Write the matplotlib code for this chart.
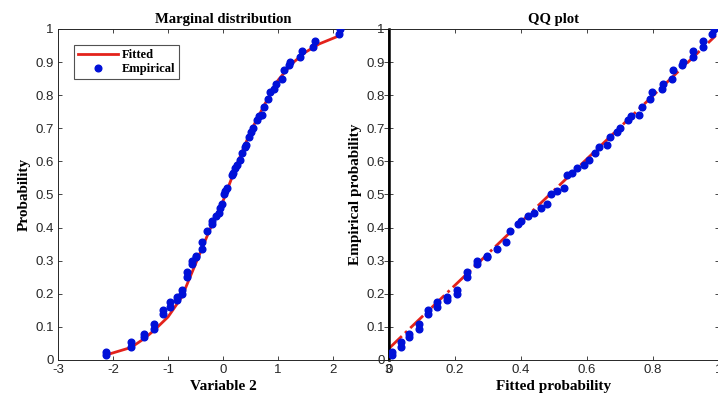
import numpy as np
import matplotlib
matplotlib.use("Agg")
import matplotlib.pyplot as plt

# empirical CDF points (Variable 2)
emp_x = [-2.13, -2.13, -1.67, -1.67, -1.43, -1.43, -1.25, -1.25, -1.09, -1.09,
         -0.96, -0.96, -0.84, -0.84, -0.75, -0.75, -0.66, -0.66, -0.57, -0.57,
         -0.50, -0.50, -0.38, -0.38, -0.29, -0.20, -0.20, -0.12, -0.08, -0.05,
         -0.02, 0.02, 0.04, 0.07, 0.16, 0.18, 0.22, 0.26, 0.30, 0.34,
         0.40, 0.42, 0.47, 0.51, 0.55, 0.61, 0.66, 0.71, 0.75, 0.82,
         0.85, 0.92, 0.96, 1.07, 1.10, 1.20, 1.21, 1.40, 1.43, 1.64,
         1.67, 2.11, 2.12]
emp_y = [0.015, 0.025, 0.040, 0.055, 0.070, 0.080, 0.095, 0.110, 0.140, 0.150,
         0.160, 0.175, 0.180, 0.190, 0.200, 0.210, 0.250, 0.265, 0.290, 0.300,
         0.310, 0.315, 0.335, 0.355, 0.390, 0.410, 0.420, 0.435, 0.445, 0.460,
         0.470, 0.500, 0.510, 0.520, 0.560, 0.565, 0.580, 0.590, 0.605, 0.625,
         0.645, 0.650, 0.675, 0.690, 0.700, 0.725, 0.737, 0.740, 0.765, 0.790,
         0.810, 0.820, 0.835, 0.850, 0.875, 0.890, 0.900, 0.915, 0.935, 0.945,
         0.965, 0.985, 1.000]

# fitted marginal CDF
fit_x = [-2.13, -1.67, -1.43, -1.25, -1.0, -0.75, -0.5, -0.25, 0.0, 0.25,
         0.5, 0.75, 1.0, 1.25, 1.5, 1.75, 2.12]
fit_y = [0.015, 0.038, 0.065, 0.090, 0.130, 0.190, 0.290, 0.390, 0.480, 0.590,
         0.690, 0.770, 0.845, 0.895, 0.930, 0.955, 0.980]

# QQ plot: fitted probability of each point vs empirical probability
qq_x = [0.008, 0.008, 0.035, 0.035, 0.060, 0.060, 0.090, 0.090, 0.118, 0.118,
        0.146, 0.146, 0.175, 0.175, 0.205, 0.205, 0.235, 0.235, 0.267, 0.267,
        0.296, 0.296, 0.327, 0.355, 0.367, 0.390, 0.400, 0.420, 0.440, 0.460,
        0.480, 0.490, 0.510, 0.530, 0.540, 0.555, 0.570, 0.590, 0.605, 0.625,
        0.637, 0.660, 0.670, 0.690, 0.700, 0.724, 0.733, 0.758, 0.766, 0.790,
        0.797, 0.826, 0.830, 0.857, 0.860, 0.887, 0.890, 0.920, 0.920, 0.950,
        0.950, 0.980, 0.985]
qq_y = emp_y
qq_line_x = [0.0, 0.99]
qq_line_y = [0.035, 0.98]

RED = "#e3221b"
BLUE = "#0010d8"
serif = ["Liberation Serif", "DejaVu Serif"]
sans = ["Liberation Sans", "DejaVu Sans"]

plt.rcParams["font.family"] = sans
plt.rcParams["axes.unicode_minus"] = False
plt.rcParams["xtick.direction"] = "in"
plt.rcParams["ytick.direction"] = "in"

fig = plt.figure(figsize=(7.18, 4.05), dpi=100, facecolor="white")
W, H = 718.0, 405.0
ax1 = fig.add_axes([58 / W, 45 / H, 330 / W, 331 / H])
ax2 = fig.add_axes([389 / W, 45 / H, 330 / W, 331 / H])

# left: marginal distribution
ax1.plot(fit_x, fit_y, color=RED, lw=2, label="Fitted", zorder=2)
ax1.plot(emp_x, emp_y, "o", color=BLUE, ms=4.8, label="Empirical", zorder=3)
ax1.set_xlim(-3, 3)
ax1.set_ylim(0, 1)
ax1.set_xticks(np.arange(-3, 4, 1))
ax1.set_yticks(np.round(np.arange(0, 1.01, 0.1), 1))
ax1.set_yticklabels(["0", "0.1", "0.2", "0.3", "0.4", "0.5", "0.6", "0.7",
                     "0.8", "0.9", "1"])
ax1.set_title("Marginal distribution", family=serif, fontweight="bold",
              fontsize=10.5, pad=4)
ax1.set_xlabel("Variable 2", family=serif, fontweight="bold", fontsize=11,
               labelpad=3)
ax1.set_ylabel("Probability", family=serif, fontweight="bold", fontsize=11,
               labelpad=3)
leg = ax1.legend(loc="upper left", bbox_to_anchor=(0.03, 0.97), frameon=True,
                 fancybox=False, edgecolor="#262626", handlelength=3.2,
                 handletextpad=0.3, borderpad=0.3, labelspacing=0.2,
                 prop={"family": serif, "weight": "bold", "size": 9})
leg.get_frame().set_linewidth(0.8)

# right: QQ plot
ax2.set_facecolor("none")
ax2.plot(qq_line_x, qq_line_y, color=RED, lw=2, ls="-.", zorder=2)
ax2.plot(qq_x, qq_y, "o", color=BLUE, ms=4.8, zorder=3)
ax2.set_xlim(0, 1)
ax2.set_ylim(0, 1)
ax2.set_xticks(np.round(np.arange(0, 1.01, 0.2), 1))
ax2.set_xticklabels(["0", "0.2", "0.4", "0.6", "0.8", "1"])
ax2.set_yticks(np.round(np.arange(0, 1.01, 0.1), 1))
ax2.set_yticklabels(["0", "0.1", "0.2", "0.3", "0.4", "0.5", "0.6", "0.7",
                     "0.8", "0.9", "1"])
ax2.set_title("QQ plot", family=serif, fontweight="bold", fontsize=10.5, pad=4)
ax2.set_xlabel("Fitted probability", family=serif, fontweight="bold",
               fontsize=11, labelpad=3)
ax2.set_ylabel("Empirical probability", family=serif, fontweight="bold",
               fontsize=11, labelpad=3)

for ax in (ax1, ax2):
    ax.tick_params(labelsize=9.5, colors="#262626", length=3, width=0.6,
                   top=True, right=True, pad=3)
    for s in ax.spines.values():
        s.set_edgecolor("#262626")
        s.set_linewidth(0.7)
ax2.spines["left"].set_linewidth(1.8)
ax2.spines["left"].set_edgecolor("black")

fig.savefig("out.png", dpi=100, facecolor="white")
